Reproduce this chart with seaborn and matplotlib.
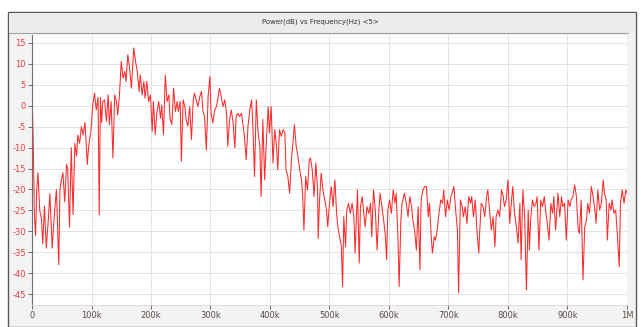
import matplotlib
matplotlib.use("Agg")
import matplotlib.pyplot as plt
import seaborn as sns
import numpy as np
from matplotlib.patches import Rectangle
from matplotlib.lines import Line2D

# ---- data (frequency in kHz, power in dB) ----
freq_a = [0, 2, 4, 6, 8, 10, 13, 16, 18, 21, 24, 27, 30, 34, 37, 41, 45, 47, 49, 52, 55, 58, 60, 63,
          66, 69, 72, 75, 77, 80, 83, 86, 89, 91, 93, 95, 99, 102, 105, 108, 111, 113, 115, 117]
pow_a = [4, -8, -26, -31, -20, -16, -25, -27, -33, -24, -34, -28, -21, -34, -27, -20, -38, -20, -18, -16,
         -23, -14, -15, -29, -10, -26, -9, -12, -7, -9, -5, -7, -4, -9, -14, -10, -6, 0, 3, -1, 2, -26, 2, -4]

freq_b = [119, 122, 125, 128, 130, 133, 136, 139, 142, 144, 147, 150, 153, 156, 158, 161, 164, 167, 171,
          174, 177, 180, 182, 185, 188, 190, 193, 196, 199, 202, 204, 207, 210, 213, 216, 218, 221, 224,
          227, 230, 232, 235, 238, 241, 244, 246, 249, 251]
pow_b = [1, 1.4, -3.7, 2.6, -4.5, 1, -12.5, 2.6, 1, -2.2, 2.6, 10.6, 6.6, 8.2, 5.8, 12.2, 9, 4.2, 13.8,
         10.6, 8.2, 3.4, 7.4, 2.6, 5.8, 1.8, 5.8, 1, 2.6, -6.1, 1, -6.9, -1.4, 1, -3, 0.2, -6.9, 7.4,
         1, 2.6, -3, -4.5, 4.2, -1.4, 1, -1.4, 1, -13.3]

freq_c = [254, 257, 259, 262, 265, 268, 271, 273, 276, 279, 282, 285, 287, 290, 293, 296, 299, 301, 304,
          307, 310, 313, 315, 318, 321, 324, 327, 329, 332, 335, 338, 341, 343, 346, 349, 352, 355, 357,
          360, 363, 366, 369, 371, 374]
pow_c = [1.4, -0.2, -3.4, -4.9, -0.2, -8.1, 1.4, 3, 1.4, -0.2, 2.2, 3.4, -1, -2.6, -10.5, 2.2, 7, -1.8,
         -4.1, -1, -0.2, 2.2, 4.2, 2.2, -0.2, 1.4, -1.8, -9.7, -3.4, -1, -4.1, -10.1, -2.6, -1.8, -2.6,
         -1.8, -4.9, -7.3, -12.9, -4.9, -1, 1.4, -4.1, -16.9]

freq_d = [377, 380, 383, 385, 388, 391, 394, 397, 399, 402, 405, 408, 411, 413, 416, 419, 422, 425, 427,
          430, 433, 436, 439, 441, 444, 447, 450, 453, 455, 457, 460, 463, 466, 468, 471, 474, 477, 480,
          481, 483, 486, 489, 492, 495, 497]
pow_d = [1.4, -6.5, -9.7, -21.7, -3.3, -17.7, -8.1, -0.2, -6.5, -0.2, -13.7, -5.7, -9.7, -15.3, -5.7,
         -7.3, -5.7, -6.5, -15.3, -16.9, -20.9, -12.9, -8.1, -4.5, -9.7, -12.1, -15.3, -17.7, -21.7, -29.7,
         -16.9, -20.1, -12.9, -12.5, -15.3, -21.7, -13.7, -20.1, -31.7, -23.3, -16.1, -20.1, -22.5, -24.9, -28.9]

freq_e = [500, 503, 506, 509, 512, 514, 517, 520, 522, 524, 527, 529, 532, 535, 538, 541, 543, 547, 550,
          552, 555, 557, 560, 563, 566, 569, 571, 574, 577, 580, 583, 585, 588, 591, 594, 596, 598, 601,
          604, 607, 610, 612, 615, 617, 620, 622]
pow_e = [-23.3, -19.3, -24.1, -17.7, -25.7, -28.9, -31.3, -33.7, -43.2, -26.5, -33.7, -24.9, -23.3, -25.7,
         -23.3, -26.5, -35.2, -20.1, -37.6, -24.1, -21.7, -24.9, -28.9, -24.1, -25.7, -23.3, -31.3, -20.1,
         -24.9, -34.5, -24.9, -20.9, -24.1, -27.3, -31.3, -36.8, -24.9, -22.5, -25.7, -20.1, -23.3, -20.9,
         -31.3, -43.2, -27.3, -23.3]

freq_f = [626, 629, 632, 635, 638, 640, 643, 646, 649, 652, 654, 657, 660, 663, 666, 668, 671, 673, 676,
          678, 681, 684, 687, 690, 692, 695, 698, 701, 704, 706, 709, 712, 715, 717, 720, 723, 725, 728,
          731, 734, 737, 739, 742, 745, 748, 751]
pow_f = [-20.9, -23.3, -26.5, -21.7, -24.1, -27.3, -29.7, -34.5, -24.1, -39.2, -22.5, -20.1, -19.3, -19.3,
         -26.5, -23.3, -31.3, -35.2, -31.3, -32.1, -29.7, -25.7, -22.5, -23.3, -20.1, -26.5, -22.5, -24.9,
         -21.7, -20.9, -19.3, -24.9, -29.7, -44.7, -22.5, -24.1, -26.5, -24.1, -28.1, -21.7, -23.3, -21.7,
         -26.5, -22.5, -30.5, -35.2]

freq_g = [752, 755, 758, 761, 764, 766, 769, 772, 775, 778, 780, 783, 786, 789, 792, 794, 797, 800, 803,
          806, 808, 811, 814, 817, 820, 822, 825, 828, 831, 834, 836, 838, 841, 844, 847, 849, 852, 855,
          858, 861, 863, 866, 869, 872, 875, 877]
pow_g = [-31.3, -23.3, -24.1, -26.5, -21.7, -20.1, -24.9, -29.7, -26.5, -33.7, -26.5, -24.9, -26.5, -20.1,
         -21.7, -24.1, -22.5, -17.7, -28.1, -22.5, -19.3, -25.7, -28.9, -32.8, -23.3, -36.8, -20.1, -26.5,
         -44.0, -24.9, -34.5, -27.3, -22.5, -24.1, -23.3, -21.7, -34.5, -22.5, -24.1, -21.7, -24.9, -28.1,
         -32.1, -23.3, -25.7, -21.7]

freq_h = [880, 884, 887, 890, 892, 895, 898, 901, 904, 906, 909, 912, 915, 918, 920, 923, 926, 929, 932,
          934, 937, 940, 943, 946, 948, 951, 954, 957, 960, 962, 965, 967, 970, 973, 975, 978, 981, 984,
          987, 989, 992, 995, 998, 1000]
pow_h = [-29.7, -20.9, -26.5, -21.7, -24.1, -23.3, -32.1, -22.5, -24.1, -22.5, -21.7, -18.9, -21.7, -29.7,
         -30.5, -22.5, -41.6, -28.9, -27.3, -23.3, -25.7, -19.3, -21.7, -24.9, -28.1, -20.1, -24.9, -23.3,
         -17.7, -20.9, -22.5, -32.1, -23.3, -24.9, -22.5, -25.7, -24.9, -31.3, -38.4, -23.3, -20.1, -23.3,
         -20.1, -20.9]

freq_khz = freq_a + freq_b + freq_c + freq_d + freq_e + freq_f + freq_g + freq_h
power_db = pow_a + pow_b + pow_c + pow_d + pow_e + pow_f + pow_g + pow_h

x_ticks = [0, 100e3, 200e3, 300e3, 400e3, 500e3, 600e3, 700e3, 800e3, 900e3, 1e6]
x_labels = ["0", "100k", "200k", "300k", "400k", "500k", "600k", "700k", "800k", "900k", "1M"]
y_ticks = [15, 10, 5, 0, -5, -10, -15, -20, -25, -30, -35, -40, -45]
title = "Power(dB) vs Frequency(Hz) <5>"

# ---- drawing ----
sns.set_theme(style="white")
plt.rcParams['font.family'] = ['DejaVu Sans']

W, H = 641, 327
fig = plt.figure(figsize=(W / 100, H / 100), dpi=100)
fig.patch.set_facecolor("white")

# window frame (behind the axes)
fig.patches.append(Rectangle((8 / W, 0), 628 / W, (H - 12) / H, transform=fig.transFigure,
                             facecolor="#f3f3f3", edgecolor="#5a5a5a", linewidth=1.0, zorder=-5))
fig.patches.append(Rectangle((9 / W, (H - 33) / H), 626 / W, 20 / H, transform=fig.transFigure,
                             facecolor="#ececec", edgecolor="none", zorder=-4))
fig.lines.append(Line2D([9 / W, 628 / W], [(H - 33) / H, (H - 33) / H], transform=fig.transFigure,
                        color="#a0a0a0", linewidth=0.8, zorder=-3))
fig.text(320 / W, (H - 22) / H, title, ha="center", va="center", fontsize=5, color="#333333")

ax = fig.add_axes([32 / W, 22 / H, 595 / W, 270 / H])
ax.set_zorder(1)
ax.set_facecolor("white")

sns.lineplot(x=np.array(freq_khz) * 1e3, y=power_db, color="#ff2a2a", linewidth=0.75, ax=ax)

ax.set_xlim(0, 1e6)
ax.set_ylim(-47.6, 16.9)
ax.set_xticks(x_ticks)
ax.set_xticklabels(x_labels)
ax.set_yticks(y_ticks)
ax.set_yticklabels([str(v) for v in y_ticks])
ax.grid(True, color="#e4e4e4", linewidth=0.7)
ax.tick_params(axis="both", which="both", direction="out", length=3, width=0.6,
               color="#555555", labelsize=6, labelcolor="#e8403a", pad=1.5, left=True, bottom=True)
ax.tick_params(axis="x", labelcolor="#5a4a46")
for s in ["top", "right"]:
    ax.spines[s].set_visible(False)
ax.spines["left"].set_color("#707070")
ax.spines["left"].set_linewidth(0.8)
ax.spines["bottom"].set_color("#d8d8d8")
ax.spines["bottom"].set_linewidth(0.6)
ax.set_xlabel("")
ax.set_ylabel("")

fig.savefig("out.png", dpi=100, facecolor=fig.get_facecolor())
